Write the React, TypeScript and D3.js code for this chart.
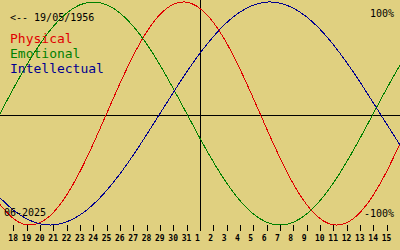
import React from "react";
import * as d3 from "d3";

// Day offsets relative to 1 June 2025 (x axis spans -15..15)
const dayOffsets = [-15,-14,-13,-12,-11,-10,-9,-8,-7,-6,-5,-4,-3,-2,-1,0,1,2,3,4,5,6,7,8,9,10,11,12,13,14,15];

const physical = [-0.817,-0.942,-0.998,-0.979,-0.888,-0.731,-0.520,-0.270,0,0.270,0.520,0.731,0.888,0.979,0.998,0.942,0.817,0.631,0.398,0.136,-0.136,-0.398,-0.631,-0.817,-0.942,-0.998,-0.979,-0.888,-0.731,-0.520,-0.270];
const emotional = [0,0.223,0.434,0.624,0.782,0.901,0.975,1,0.975,0.901,0.782,0.624,0.434,0.223,0,-0.223,-0.434,-0.624,-0.782,-0.901,-0.975,-1,-0.975,-0.901,-0.782,-0.624,-0.434,-0.223,0,0.223,0.434];
const intellectual = [-0.756,-0.866,-0.945,-0.990,-0.999,-0.972,-0.910,-0.815,-0.690,-0.541,-0.372,-0.189,0,0.189,0.372,0.541,0.690,0.815,0.910,0.972,0.999,0.990,0.945,0.866,0.756,0.618,0.458,0.282,0.095,-0.095,-0.282];

const tickOffsets = [-14,-13,-12,-11,-10,-9,-8,-7,-6,-5,-4,-3,-2,-1,0,1,2,3,4,5,6,7,8,9,10,11,12,13,14];
const tickLabels = ["18","19","20","21","22","23","24","25","26","27","28","29","30","31","1","2","3","4","5","6","7","8","9","10","11","12","13","14","15"];

const seriesNames = ["Physical", "Emotional", "Intellectual"];
const seriesColors = ["#e00000", "#008000", "#000090"];
const birthLabel = "<-- 19/05/1956";
const monthLabel = "06-2025";
const topLabel = "100%";
const bottomLabel = "-100%";

const W = 400;
const H = 250;
const MONO = "'DejaVu Sans Mono', 'Liberation Mono', monospace";

export default function App() {
  const x = d3.scaleLinear().domain([-15, 15]).range([0, W]);
  const y = d3.scaleLinear().domain([-1, 1]).range([225, 2]);
  const allSeries = [physical, emotional, intellectual];
  const gen = d3
    .line<number>()
    .x((_, i) => x(dayOffsets[i]))
    .y((v) => y(v))
    .curve(d3.curveNatural);
  const axisY = 115.5;
  const axisX = Math.round(x(0)) + 0.5;

  return (
    <svg
      width={W}
      height={H}
      style={{ position: "absolute", left: 0, top: 0, display: "block" }}
    >
      <rect x={0} y={0} width={W} height={H} fill="#e0d080" />
      <line x1={0} x2={W} y1={axisY} y2={axisY} stroke="#000" strokeWidth={1} shapeRendering="crispEdges" />
      <line x1={axisX} x2={axisX} y1={0} y2={231} stroke="#000" strokeWidth={1} shapeRendering="crispEdges" />
      {tickOffsets.map((d, i) => {
        const tx = Math.round(x(d)) + 0.5;
        return (
          <g key={i}>
            <line x1={tx} x2={tx} y1={225} y2={231} stroke="#000" strokeWidth={1} shapeRendering="crispEdges" />
            <text x={x(d) - 5} y={241} fontFamily={MONO} fontWeight="bold" fontSize={8} fill="#000">
              {tickLabels[i]}
            </text>
          </g>
        );
      })}
      {allSeries.map((s, i) => (
        <path
          key={i}
          d={gen(s) || ""}
          fill="none"
          stroke={seriesColors[i]}
          strokeWidth={1}
          shapeRendering="crispEdges"
        />
      ))}
      <text x={10} y={21} fontFamily={MONO} fontSize={10} fill="#000">{birthLabel}</text>
      {seriesNames.map((n, i) => (
        <text key={n} x={10} y={43 + i * 15} fontFamily={MONO} fontSize={13} fill={seriesColors[i]}>
          {n}
        </text>
      ))}
      <text x={394} y={17} textAnchor="end" fontFamily={MONO} fontSize={10} fill="#000">{topLabel}</text>
      <text x={394} y={217} textAnchor="end" fontFamily={MONO} fontSize={10} fill="#000">{bottomLabel}</text>
      <text x={4} y={216} fontFamily={MONO} fontSize={10} fill="#000">{monthLabel}</text>
    </svg>
  );
}
